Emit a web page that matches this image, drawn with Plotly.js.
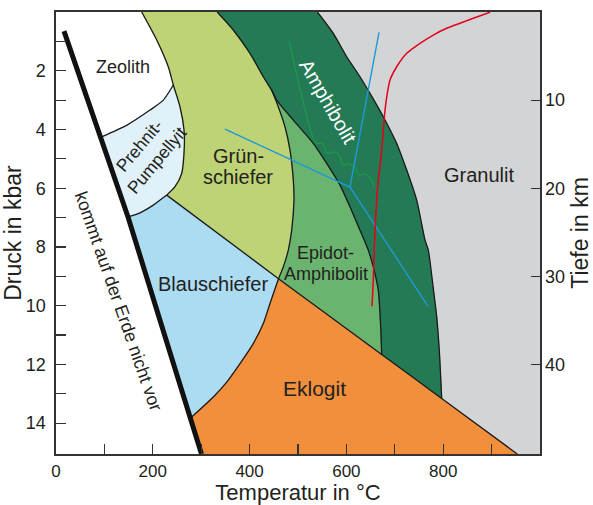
<!DOCTYPE html>
<html><head><meta charset="utf-8">
<script src="https://cdn.plot.ly/plotly-3.0.1.min.js"></script>
<style>html,body{margin:0;padding:0;background:#fff}#chart{width:593px;height:505px}</style>
</head><body><div id="chart"></div>
<script>
// ---- boundary curves: Temperatur (°C) / Druck (kbar) ----
const blackT = [16.5, 93.0, 148.8, 221.1, 277.6, 300.6];
const blackP = [0.65, 4.26, 6.98, 10.83, 13.83, 15.05];

const zeoPrehT = [93.0, 117.4, 146.7, 194.2, 221.7, 242.4];
const zeoPrehP = [4.26, 4.08, 3.85, 3.34, 3.00, 2.487];

const greenLeftT = [177, 208.1, 232.0, 242.4, 256.2, 264.5, 265.1, 259.7, 245.9, 228.7];
const greenLeftP = [0, 0.954, 1.864, 2.487, 3.227, 4.02, 4.59, 5.50, 5.95, 6.235];

const prehBlauT = [228.7, 201.0, 173.6, 148.8];
const prehBlauP = [6.235, 6.576, 6.838, 6.98];

const blauGruenT = [228.7, 459.7];
const blauGruenP = [6.235, 9.08];

const gruenAmphT = [333, 366.3, 400.8, 428.3, 445.7];
const gruenAmphP = [0, 0.613, 1.407, 2.204, 2.658];

const gruenEpiT = [445.7, 459.3, 473.1, 483.5, 490.3, 491.7, 487.0, 480.0, 469.6, 459.7];
const gruenEpiP = [2.658, 3.227, 3.908, 4.702, 5.724, 6.405, 7.428, 8.109, 8.678, 9.08];

const blauEkloT = [459.7, 442.1, 428.3, 407.6, 380.2, 352.7, 325.0, 277.6];
const blauEkloP = [9.08, 9.925, 10.61, 11.29, 11.97, 12.60, 13.11, 13.83];

const ekloT = [459.7, 672.9, 796.9, 953];
const ekloP = [9.08, 11.66, 13.16, 15.05];

const epiAmphT = [445.7, 456.0, 490.3, 531.6, 559.3, 586.8, 607.4, 628.1, 645.2, 655.6, 665.9, 669.4, 671.5, 672.9];
const epiAmphP = [2.658, 2.998, 3.68, 4.474, 5.155, 5.894, 6.634, 7.428, 8.109, 8.678, 9.472, 10.27, 10.95, 11.66];

const amphGranT = [540, 572.9, 600.6, 628.1, 648.8, 676.2, 703.9, 724.6, 745.2, 762.4, 769.2, 778.3, 786.6, 791.9, 796.9];
const amphGranP = [0, 0.726, 1.523, 2.204, 2.77, 3.567, 4.474, 5.383, 6.405, 7.768, 8.109, 9.244, 10.38, 11.52, 13.16];

// geotherm (red), blue paths, green wavy path
const redT = [652.9, 655.6, 657.6, 659.7, 662.6, 665.9, 669.4, 672.9, 676.2, 679.8, 683.9, 690.1, 703.9, 724.6, 752.1, 779.5, 807.2, 834.7, 862.2, 896.7];
const redP = [10.02, 9.131, 7.997, 7.257, 6.405, 5.724, 5.271, 4.702, 4.020, 3.339, 2.828, 2.317, 1.864, 1.407, 1.066, 0.784, 0.555, 0.385, 0.215, 0.010];

const blueT = [349.2, 607.4, 667.4, null, 607.4, 768.6];
const blueP = [3.986, 5.963, 0.692, null, 5.963, 10.02];

const greenT = [482.0, 535.1, 541.9, 548.9, 555.8, 559.3, 566.1, 572.9, 581.2, 586.8, 590.3, 597.1, 603.9, 610.9, 617.8, 621.3, 628.1, 638.4, 645.2, 652.3, 655.6, 659.1];
const greenP = [1.012, 4.419, 4.474, 4.453, 4.589, 4.794, 4.814, 4.760, 4.814, 4.930, 5.155, 5.213, 5.155, 5.213, 5.271, 5.441, 5.554, 5.520, 5.588, 5.724, 5.894, 5.973];

// axis ticks
const xTicks = [0, 100, 200, 300, 400, 500, 600, 700, 800, 900];
const xLabels = ['0', '', '200', '', '400', '', '600', '', '800', ''];
const yTicks = [1, 2, 3, 4, 5, 6, 7, 8, 9, 10, 11, 12, 13, 14];
const yLabels = ['', '2', '', '4', '', '6', '', '8', '', '10', '', '12', '', '14'];
const kmTicks = [10, 20, 30, 40];
const kmLabels = ['10', '20', '30', '40'];

const FONT = 'Liberation Sans, Arial, Helvetica, sans-serif';
const TXT = '#231f20';
const PMAX = 15.05;

function seg(T, P, i0, i1) {
  const x = [], y = [];
  if (i1 === undefined) i1 = T.length - 1;
  const step = i1 >= i0 ? 1 : -1;
  for (let i = i0; step > 0 ? i <= i1 : i >= i1; i += step) { x.push(T[i]); y.push(P[i]); }
  return [x, y];
}
function last(a) { return a.length - 1; }
function region(parts, color) {
  const x = [], y = [];
  parts.forEach(p => { x.push(...p[0]); y.push(...p[1]); });
  return {type: 'scatter', x, y, mode: 'lines', fill: 'toself', fillcolor: color,
    line: {color: color, width: 0.6}, hoverinfo: 'skip', showlegend: false};
}
function border(T, P) {
  return {type: 'scatter', x: T, y: P, mode: 'lines',
    line: {color: '#1a1a1a', width: 1.3, shape: 'spline', smoothing: 0.7},
    hoverinfo: 'skip', showlegend: false};
}

const traces = [];
// Zeolith + "kommt auf der Erde nicht vor" (white)
traces.push(region([
  [[0], [0]],
  seg(greenLeftT, greenLeftP, 0, 3),
  seg(zeoPrehT, zeoPrehP, last(zeoPrehT), 0),
  seg(blackT, blackP, 1, last(blackT)),
  [[0], [PMAX]]
], '#ffffff'));
// Prehnit-Pumpellyit
traces.push(region([
  seg(zeoPrehT, zeoPrehP, 0),
  seg(greenLeftT, greenLeftP, 4, last(greenLeftT)),
  seg(prehBlauT, prehBlauP, 1),
  seg(blackT, blackP, 1, 1)
], '#e0f1fa'));
// Grünschiefer
traces.push(region([
  seg(gruenAmphT, gruenAmphP, 0),
  seg(gruenEpiT, gruenEpiP, 1),
  seg(blauGruenT, blauGruenP, 0, 0),
  seg(greenLeftT, greenLeftP, last(greenLeftT), 0)
], '#bed375'));
// Blauschiefer
traces.push(region([
  seg(blauGruenT, blauGruenP, 0),
  seg(blauEkloT, blauEkloP, 1),
  seg(blackT, blackP, 3, 2),
  seg(prehBlauT, prehBlauP, last(prehBlauT) - 1, 0)
], '#acdcf2'));
// Eklogit
traces.push(region([
  seg(ekloT, ekloP, 0),
  seg(blackT, blackP, last(blackT), 4),
  seg(blauEkloT, blauEkloP, last(blauEkloT) - 1, 0)
], '#f18f3d'));
// Epidot-Amphibolit
traces.push(region([
  seg(epiAmphT, epiAmphP, 0),
  seg(ekloT, ekloP, 0, 0),
  seg(gruenEpiT, gruenEpiP, last(gruenEpiT) - 1, 0)
], '#6ab46f'));
// Amphibolit
traces.push(region([
  seg(gruenAmphT, gruenAmphP, 0),
  seg(epiAmphT, epiAmphP, 1),
  seg(ekloT, ekloP, 2, 2),
  seg(amphGranT, amphGranP, last(amphGranT), 0)
], '#247a54'));

// facies boundaries
[[zeoPrehT, zeoPrehP], [greenLeftT, greenLeftP], [prehBlauT, prehBlauP], [blauGruenT, blauGruenP],
 [gruenAmphT, gruenAmphP], [gruenEpiT, gruenEpiP], [blauEkloT, blauEkloP], [ekloT, ekloP],
 [epiAmphT, epiAmphP], [amphGranT, amphGranP]].forEach(c => traces.push(border(c[0], c[1])));

// overlay lines
traces.push({type: 'scatter', x: greenT, y: greenP, mode: 'lines', line: {color: '#1b9a4a', width: 1.3, shape: 'spline', smoothing: 0.8}, hoverinfo: 'skip', showlegend: false});
traces.push({type: 'scatter', x: blueT, y: blueP, mode: 'lines', line: {color: '#1d9ad6', width: 1.4}, connectgaps: false, hoverinfo: 'skip', showlegend: false});
traces.push({type: 'scatter', x: redT, y: redP, mode: 'lines', line: {color: '#e2001a', width: 1.5, shape: 'spline', smoothing: 0.6}, hoverinfo: 'skip', showlegend: false});
traces.push({type: 'scatter', x: blackT, y: blackP, mode: 'lines', line: {color: '#111111', width: 5}, hoverinfo: 'skip', showlegend: false});
// dummy on the depth axis
traces.push({type: 'scatter', x: [500], y: [25], yaxis: 'y2', mode: 'markers', marker: {opacity: 0}, hoverinfo: 'skip', showlegend: false});

function lab(text, x, y, size, opts) {
  return Object.assign({text, x, y, xref: 'x', yref: 'y', showarrow: false,
    font: {family: FONT, size, color: TXT}, xanchor: 'center', yanchor: 'middle'}, opts || {});
}
const annotations = [
  lab('Zeolith', 137.4, 1.87, 18),
  lab('Prehnit-<br>Pumpellyit', 192, 4.80, 17.5, {textangle: -50}),
  lab('Grün-', 378, 4.92, 20),
  lab('schiefer', 377, 5.62, 20),
  lab('Blauschiefer', 325, 9.25, 20),
  lab('Epidot-', 557, 8.22, 18),
  lab('Amphibolit', 558, 8.93, 18),
  lab('Amphibolit', 562.6, 3.06, 20, {textangle: 60, font: {family: FONT, size: 20, color: '#ffffff'}}),
  lab('Granulit', 873.6, 5.54, 20),
  lab('Eklogit', 535, 12.83, 21),
  lab('kommt auf der Erde nicht vor', 128.7, 9.84, 18, {textangle: 70.7})
];

const axCommon = {showgrid: false, zeroline: false, ticks: 'inside', tickcolor: '#333', tickwidth: 1.2,
  tickfont: {family: FONT, size: 18, color: TXT}, fixedrange: true};

const layout = {
  width: 593, height: 505,
  margin: {l: 56, r: 53, t: 12, b: 51},
  paper_bgcolor: '#ffffff', plot_bgcolor: '#d3d4d6',
  font: {family: FONT, color: TXT},
  showlegend: false,
  xaxis: Object.assign({}, axCommon, {range: [0, 1000], tickmode: 'array', tickvals: xTicks, ticktext: xLabels,
    ticklen: 10, showline: true, linecolor: '#333', linewidth: 1.6, mirror: true, ticklabelstandoff: 1,
    tickfont: {family: FONT, size: 17, color: TXT},
    title: {text: 'Temperatur in °C', font: {family: FONT, size: 22, color: TXT}, standoff: 12}}),
  yaxis: Object.assign({}, axCommon, {range: [PMAX, 0], tickmode: 'array', tickvals: yTicks, ticktext: yLabels,
    ticklen: 10, showline: true, linecolor: '#333', linewidth: 1.6, mirror: true, ticklabelstandoff: 5,
    title: {text: 'Druck in kbar', font: {family: FONT, size: 23, color: TXT}, standoff: 4}}),
  yaxis2: Object.assign({}, axCommon, {overlaying: 'y', side: 'right', range: [PMAX * 10 / 3, 0], tickmode: 'array',
    tickvals: kmTicks, ticktext: kmLabels, ticklen: 9, showline: false, ticklabelstandoff: 4,
    title: {text: 'Tiefe in km', font: {family: FONT, size: 23, color: TXT}, standoff: 10}}),
  annotations
};

Plotly.newPlot('chart', traces, layout, {displayModeBar: false, staticPlot: true});
</script></body></html>
